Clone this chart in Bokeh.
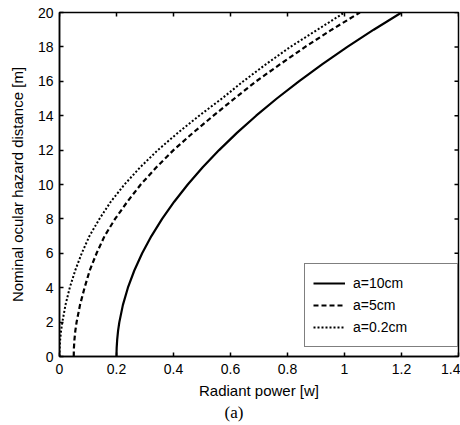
import math
from bokeh.plotting import figure
from bokeh.models import Range1d, FixedTicker, Legend, LegendItem, Title
from bokeh.embed import file_html
from bokeh.resources import INLINE

# Nominal ocular hazard distance [m] (y) vs radiant power [w] (x)
distance = [0, 0.25, 0.5, 1, 1.5, 2, 3, 4, 5, 6, 7, 8, 9, 10, 11, 12, 13, 14, 15, 16, 17, 18, 19, 20]
power_a10 = [0.200, 0.2002, 0.2006, 0.2025, 0.2056, 0.210, 0.2225, 0.240, 0.2625, 0.290, 0.3225, 0.360,
             0.4025, 0.450, 0.5025, 0.560, 0.6225, 0.690, 0.7625, 0.840, 0.9225, 1.010, 1.1025, 1.200]
power_a5 = [0.050, 0.0502, 0.0506, 0.0525, 0.0556, 0.060, 0.072, 0.088, 0.106, 0.130, 0.158, 0.195,
            0.238, 0.285, 0.340, 0.400, 0.468, 0.540, 0.614, 0.690, 0.775, 0.862, 0.955, 1.054]
power_a02 = [0.000, 0.0002, 0.0006, 0.0025, 0.0056, 0.010, 0.021, 0.036, 0.055, 0.078, 0.105, 0.140,
             0.180, 0.228, 0.283, 0.345, 0.415, 0.490, 0.570, 0.645, 0.725, 0.810, 0.905, 1.000]
series_labels = ["a=10cm", "a=5cm", "a=0.2cm"]
x_ticks = [0, 0.2, 0.4, 0.6, 0.8, 1.0, 1.2, 1.4]
x_tick_labels = ["0", "0.2", "0.4", "0.6", "0.8", "1", "1.2", "1.4"]
y_ticks = [0, 2, 4, 6, 8, 10, 12, 14, 16, 18, 20]
X_MIN, X_MAX = 0, 1.4
Y_MIN, Y_MAX = 0, 20

FONT = "Liberation Sans"

p = figure(width=460, height=425, output_backend="svg", toolbar_location=None,
           x_range=Range1d(X_MIN, X_MAX), y_range=Range1d(Y_MIN, Y_MAX),
           min_border_left=59, min_border_right=2, min_border_top=12, min_border_bottom=69)
p.background_fill_color = "white"
p.border_fill_color = "white"
p.outline_line_color = "black"
p.outline_line_width = 1.5
p.xgrid.visible = False
p.ygrid.visible = False

def style_axis(ax):
    ax.axis_line_color = "black"
    ax.axis_line_width = 1.5
    ax.major_tick_in = 4
    ax.major_tick_out = 0
    ax.major_tick_line_width = 1.5
    ax.minor_tick_line_color = None
    ax.major_label_text_font = FONT
    ax.major_label_text_font_size = "14px"
    ax.major_label_text_color = "black"
    ax.axis_label_text_font = FONT
    ax.axis_label_text_font_style = "normal"
    ax.axis_label_text_font_size = "15px"
    ax.axis_label_text_color = "black"

xa = p.xaxis[0]
xa.ticker = FixedTicker(ticks=x_ticks)
xa.major_label_overrides = {t: l for t, l in zip(x_ticks, x_tick_labels)}
xa.axis_label = "Radiant power [w]"
style_axis(xa)
xa.major_label_standoff = 7
xa.axis_label_standoff = 5

ya = p.yaxis[0]
ya.ticker = FixedTicker(ticks=y_ticks)
ya.axis_label = "Nominal ocular hazard distance [m]"
style_axis(ya)
ya.major_label_standoff = 6
ya.axis_label_standoff = 9

# inward tick marks on the top and right borders (MATLAB box style)
p.scatter(x_ticks, [Y_MAX] * len(x_ticks), marker="dash", angle=math.pi / 2, size=8,
          line_color="black", line_width=1.5)
p.scatter([X_MAX] * len(y_ticks), y_ticks, marker="dash", size=8,
          line_color="black", line_width=1.5)

r1 = p.line(power_a10, distance, line_color="black", line_width=2.2)
r2 = p.line(power_a5, distance, line_color="black", line_width=2.2, line_dash="5 3")
r3 = p.line(power_a02, distance, line_color="black", line_width=2.0, line_dash="2 2")

legend = Legend(items=[LegendItem(label=series_labels[0], renderers=[r1]),
                       LegendItem(label=series_labels[1], renderers=[r2]),
                       LegendItem(label=series_labels[2], renderers=[r3])],
                location=(245, 9))
legend.border_line_color = "black"
legend.border_line_width = 1
legend.background_fill_color = "white"
legend.background_fill_alpha = 1
legend.padding = 8
legend.margin = 0
legend.spacing = 0
legend.glyph_width = 32
legend.glyph_height = 22
legend.label_height = 22
legend.label_width = 96
legend.label_standoff = 8
legend.label_text_font = FONT
legend.label_text_font_size = "14px"
legend.label_text_color = "black"
p.add_layout(legend, "center")

caption = Title(text="(a)", align="left", offset=165, standoff=0, vertical_align="middle",
                text_font="Liberation Serif", text_font_size="17px", text_font_style="normal",
                text_color="black")
p.add_layout(caption, "below")

open("out.html", "w").write(file_html(p, INLINE))
